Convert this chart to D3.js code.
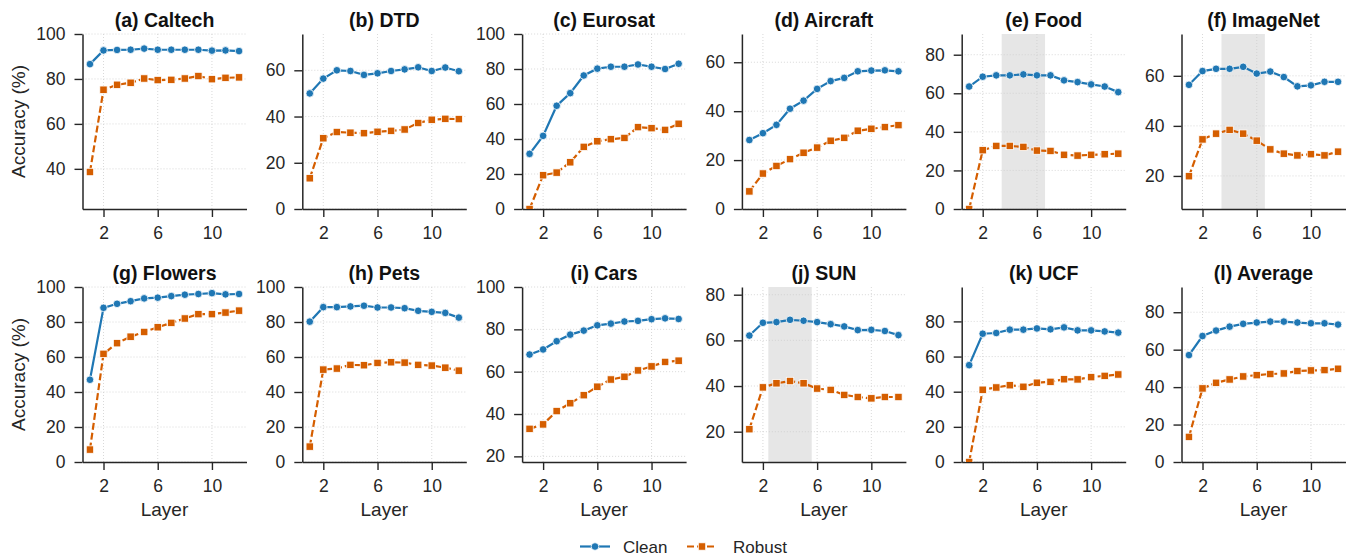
<!DOCTYPE html>
<html>
<head>
<meta charset="utf-8">
<script src="https://cdn.jsdelivr.net/npm/d3@7"></script>
<style>
  body { margin: 0; background: #fff; }
  svg { font-family: "Liberation Sans", Arial, sans-serif; }
</style>
</head>
<body>
<svg id="chart"></svg>
<script>
// layers on the x axis
const layers = [1, 2, 3, 4, 5, 6, 7, 8, 9, 10, 11, 12];
const xTicks = [2, 6, 10];

// accuracy (%) per layer
const caltechClean  = [86.6, 92.7, 92.9, 93.0, 93.5, 93.0, 93.0, 93.0, 93.0, 92.6, 92.7, 92.4];
const caltechRobust = [38.6, 75.2, 77.4, 78.3, 80.2, 79.5, 79.6, 80.2, 81.3, 79.9, 80.5, 80.7];
const dtdClean      = [50.0, 56.4, 60.0, 59.7, 58.0, 58.7, 59.7, 60.4, 61.3, 59.7, 61.2, 59.6];
const dtdRobust     = [13.3, 30.6, 33.3, 33.0, 32.8, 33.4, 33.8, 34.4, 37.2, 38.6, 39.0, 38.9];
const eurosatClean  = [31.5, 41.8, 59.0, 66.2, 76.3, 80.2, 81.3, 81.3, 82.6, 81.3, 80.0, 83.0];
const eurosatRobust = [0.0, 19.3, 20.8, 26.7, 35.5, 38.7, 39.9, 40.6, 46.8, 46.2, 45.2, 48.7];
const aircraftClean  = [28.2, 31.0, 34.4, 41.0, 44.3, 49.1, 52.3, 53.6, 56.3, 56.6, 56.7, 56.3];
const aircraftRobust = [7.2, 14.5, 17.6, 20.4, 23.0, 25.1, 27.9, 29.1, 32.0, 32.8, 33.5, 34.3];
const foodClean  = [63.5, 68.6, 69.3, 69.3, 69.8, 69.3, 69.3, 66.7, 65.8, 64.6, 63.5, 60.6];
const foodRobust = [0.0, 30.5, 32.7, 32.7, 32.2, 30.3, 30.1, 28.1, 27.7, 28.1, 28.4, 28.7];
const imagenetClean  = [56.4, 61.9, 62.8, 62.8, 63.6, 60.9, 61.7, 59.5, 55.8, 56.2, 57.6, 57.6];
const imagenetRobust = [19.9, 34.6, 36.9, 38.4, 36.9, 34.1, 30.6, 28.9, 28.2, 28.7, 28.2, 29.7];
const flowersClean  = [47.0, 88.1, 90.4, 91.9, 93.5, 93.9, 94.8, 95.6, 96.0, 96.5, 95.8, 96.0];
const flowersRobust = [7.1, 61.8, 67.9, 71.6, 74.3, 77.0, 79.5, 82.0, 84.5, 84.5, 85.4, 86.5];
const petsClean  = [80.2, 88.5, 88.5, 88.9, 89.3, 88.3, 88.3, 87.9, 86.4, 85.8, 85.2, 82.5];
const petsRobust = [8.8, 52.8, 53.4, 55.5, 55.3, 56.6, 57.0, 56.8, 55.5, 55.1, 53.9, 52.2];
const carsClean  = [68.1, 70.5, 74.4, 77.5, 79.4, 81.9, 82.7, 83.7, 84.0, 84.8, 85.2, 84.9];
const carsRobust = [33.0, 35.1, 41.4, 45.1, 48.9, 52.9, 56.3, 57.6, 60.6, 62.5, 64.6, 65.2];
const sunClean  = [62.1, 67.7, 68.0, 69.0, 68.6, 68.0, 67.1, 66.1, 64.5, 64.6, 64.1, 62.3];
const sunRobust = [21.1, 39.4, 41.2, 42.2, 41.2, 38.9, 38.3, 36.1, 35.2, 34.6, 35.2, 35.2];
const ucfClean  = [55.1, 73.0, 73.4, 75.3, 75.3, 76.0, 75.5, 76.6, 74.9, 74.9, 74.3, 73.6];
const ucfRobust = [0.0, 41.1, 42.4, 43.7, 42.8, 45.1, 45.6, 47.1, 47.0, 48.3, 49.0, 49.8];
const avgClean  = [57.1, 67.3, 70.2, 72.3, 73.8, 74.5, 75.0, 75.0, 74.5, 74.1, 74.1, 73.4];
const avgRobust = [13.4, 39.3, 42.3, 44.1, 45.7, 46.4, 47.0, 47.3, 48.6, 48.9, 49.1, 49.8];

const titles = ['(a) Caltech', '(b) DTD', '(c) Eurosat', '(d) Aircraft', '(e) Food', '(f) ImageNet',
                '(g) Flowers', '(h) Pets', '(i) Cars', '(j) SUN', '(k) UCF', '(l) Average'];
const cleanSeries  = [caltechClean, dtdClean, eurosatClean, aircraftClean, foodClean, imagenetClean,
                      flowersClean, petsClean, carsClean, sunClean, ucfClean, avgClean];
const robustSeries = [caltechRobust, dtdRobust, eurosatRobust, aircraftRobust, foodRobust, imagenetRobust,
                      flowersRobust, petsRobust, carsRobust, sunRobust, ucfRobust, avgRobust];
// shaded layer ranges (panel index -> [from, to])
const shaded = [[4, [3.4, 6.6]], [5, [3.4, 6.6]], [9, [2.4, 5.6]]];

const width = 1351, height = 556;
const pw = 164, ph = 175;
const colX = c => 82.5 + c * 219.8;
const rowY = [34, 287];
const ink = '#262626';
const blue = '#1f77b4', orange = '#d55e00';

const svg = d3.select('#chart').attr('width', width).attr('height', height);

titles.forEach((title, i) => {
  let col = i % 6, row = Math.floor(i / 6);
  let clean = cleanSeries[i], robust = robustSeries[i];
  let all = clean.concat(robust);
  let mn = d3.min(all), mx = d3.max(all), pad = 0.3 * (mx - mn);

  let xScale = d3.scaleLinear().domain([0.45, 12.55]).range([0, pw]);
  let yScale = d3.scaleLinear()
                 .domain([Math.max(0, mn - pad), Math.min(100, mx + pad)])
                 .range([ph, 0]);
  let yTicks = d3.range(0, 101, 20).filter(t => t >= yScale.domain()[0] && t <= yScale.domain()[1]);

  let g = svg.append('g').attr('transform', `translate(${colX(col)},${rowY[row]})`);

  g.append('clipPath').attr('id', 'clip' + i)
    .append('rect').attr('width', pw).attr('height', ph);

  shaded.filter(s => s[0] === i).forEach(s => {
    g.append('rect')
      .attr('x', xScale(s[1][0]))
      .attr('width', xScale(s[1][1]) - xScale(s[1][0]))
      .attr('y', 0).attr('height', ph)
      .attr('fill', '#e6e6e6');
  });

  // grid
  g.selectAll('.gy').data(yTicks).enter().append('line')
    .attr('x1', 0).attr('x2', pw)
    .attr('y1', d => yScale(d)).attr('y2', d => yScale(d))
    .attr('stroke', '#cfcfcf').attr('stroke-width', 0.8).attr('stroke-dasharray', '1,2');
  g.selectAll('.gx').data(xTicks).enter().append('line')
    .attr('y1', 0).attr('y2', ph)
    .attr('x1', d => xScale(d)).attr('x2', d => xScale(d))
    .attr('stroke', '#cfcfcf').attr('stroke-width', 0.8).attr('stroke-dasharray', '1,2');

  let yAxis = d3.axisLeft(yScale).tickValues(yTicks).tickSize(8).tickSizeOuter(0).tickPadding(9);
  let xAxis = d3.axisBottom(xScale).tickValues(xTicks).tickSize(8).tickSizeOuter(0).tickPadding(10);

  let ya = g.append('g').call(yAxis);
  let xa = g.append('g').attr('transform', `translate(0,${ph})`).call(xAxis);
  [ya, xa].forEach(a => {
    a.select('.domain').attr('stroke', ink).attr('stroke-width', 1.5);
    a.selectAll('.tick line').attr('stroke', ink).attr('stroke-width', 1.4);
    a.selectAll('.tick text').attr('fill', ink).style('font-size', '17.5px');
  });

  let plot = g.append('g').attr('clip-path', `url(#clip${i})`);
  let line = d3.line().x((d, k) => xScale(layers[k])).y(d => yScale(d));

  plot.append('path').datum(clean)
    .attr('d', line).attr('fill', 'none')
    .attr('stroke', blue).attr('stroke-width', 2.2);
  plot.selectAll('.dot').data(clean).enter().append('circle')
    .attr('cx', (d, k) => xScale(layers[k]))
    .attr('cy', d => yScale(d))
    .attr('r', 3.8)
    .attr('fill', blue).attr('stroke', '#fff').attr('stroke-width', 0.8);

  plot.append('path').datum(robust)
    .attr('d', line).attr('fill', 'none')
    .attr('stroke', orange).attr('stroke-width', 2.2).attr('stroke-dasharray', '7,3');
  plot.selectAll('.sq').data(robust).enter().append('rect')
    .attr('x', (d, k) => xScale(layers[k]) - 3.7)
    .attr('y', d => yScale(d) - 3.7)
    .attr('width', 7.4).attr('height', 7.4)
    .attr('fill', orange).attr('stroke', '#fff').attr('stroke-width', 0.8);

  g.append('text')
    .attr('x', pw / 2).attr('y', -7.5)
    .style('text-anchor', 'middle')
    .style('font-size', '19.5px').style('font-weight', 'bold')
    .attr('fill', '#111')
    .text(title);

  if (col === 0) {
    svg.append('text')
      .attr('transform', `translate(25,${rowY[row] + ph / 2}) rotate(-90)`)
      .style('text-anchor', 'middle')
      .style('font-size', '19px')
      .attr('fill', ink)
      .text('Accuracy (%)');
  }
  if (row === 1) {
    g.append('text')
      .attr('x', pw / 2).attr('y', ph + 54)
      .style('text-anchor', 'middle')
      .style('font-size', '19px')
      .attr('fill', ink)
      .text('Layer');
  }
});

// legend
let legend = svg.append('g').attr('transform', 'translate(0,546.5)');
legend.append('line').attr('x1', 580).attr('x2', 610)
  .attr('stroke', blue).attr('stroke-width', 2.2);
legend.append('circle').attr('cx', 595).attr('r', 3.8)
  .attr('fill', blue).attr('stroke', '#fff').attr('stroke-width', 0.8);
legend.append('text').attr('x', 623).attr('y', 6)
  .style('font-size', '17px').attr('fill', ink).text('Clean');

legend.append('line').attr('x1', 687).attr('x2', 717)
  .attr('stroke', orange).attr('stroke-width', 2.2).attr('stroke-dasharray', '7,3');
legend.append('rect').attr('x', 702 - 3.7).attr('y', -3.7)
  .attr('width', 7.4).attr('height', 7.4)
  .attr('fill', orange).attr('stroke', '#fff').attr('stroke-width', 0.8);
legend.append('text').attr('x', 733).attr('y', 6)
  .style('font-size', '17px').attr('fill', ink).text('Robust');
</script>
</body>
</html>
